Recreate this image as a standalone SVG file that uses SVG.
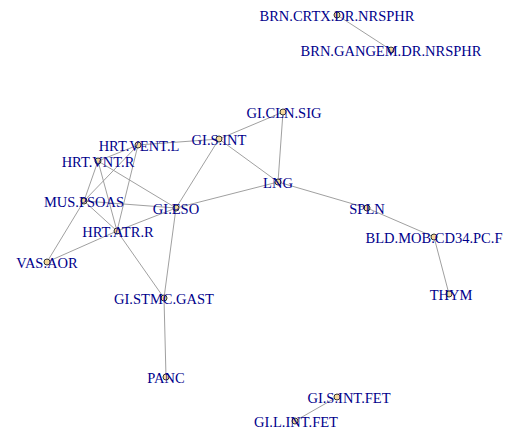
<svg xmlns="http://www.w3.org/2000/svg" width="518" height="433" viewBox="0 0 518 433">
<style>
.e{stroke:#a0a0a0;stroke-width:1;fill:none}
.n circle{fill:#f6d99a;stroke:#333;stroke-width:1}
.n text{font-family:"Liberation Serif","Times New Roman",serif;font-size:14.5px;fill:#00008b;text-anchor:middle}
</style>
<rect width="518" height="433" fill="#fff"/>
<g id="edges">
<line class="e" x1="337" y1="15" x2="391" y2="50"/>
<line class="e" x1="283" y1="112" x2="219" y2="139"/>
<line class="e" x1="283" y1="112" x2="278" y2="182"/>
<line class="e" x1="219" y1="139" x2="278" y2="182"/>
<line class="e" x1="219" y1="139" x2="138" y2="145"/>
<line class="e" x1="219" y1="139" x2="176" y2="208"/>
<line class="e" x1="278" y1="182" x2="176" y2="208"/>
<line class="e" x1="278" y1="182" x2="367" y2="208"/>
<line class="e" x1="367" y1="208" x2="434" y2="237"/>
<line class="e" x1="434" y1="237" x2="449" y2="294"/>
<line class="e" x1="138" y1="145" x2="98" y2="161"/>
<line class="e" x1="138" y1="145" x2="84" y2="201"/>
<line class="e" x1="138" y1="145" x2="117" y2="231"/>
<line class="e" x1="98" y1="161" x2="84" y2="201"/>
<line class="e" x1="98" y1="161" x2="117" y2="231"/>
<line class="e" x1="98" y1="161" x2="176" y2="208"/>
<line class="e" x1="84" y1="201" x2="176" y2="208"/>
<line class="e" x1="84" y1="201" x2="47" y2="262"/>
<line class="e" x1="84" y1="201" x2="117" y2="231"/>
<line class="e" x1="117" y1="231" x2="176" y2="208"/>
<line class="e" x1="117" y1="231" x2="47" y2="262"/>
<line class="e" x1="117" y1="231" x2="164" y2="298"/>
<line class="e" x1="176" y1="208" x2="164" y2="298"/>
<line class="e" x1="164" y1="298" x2="166" y2="377"/>
<line class="e" x1="337" y1="397" x2="295" y2="421"/>
</g>
<g id="BRN.CRTX.DR.NRSPHR" class="n"><circle cx="337" cy="15" r="3"/><text x="337" y="21">BRN.CRTX.DR.NRSPHR</text></g>
<g id="BRN.GANGEM.DR.NRSPHR" class="n"><circle cx="391" cy="50" r="3"/><text x="391" y="56">BRN.GANGEM.DR.NRSPHR</text></g>
<g id="GI.CLN.SIG" class="n"><circle cx="283" cy="112" r="3"/><text x="284" y="118">GI.CLN.SIG</text></g>
<g id="GI.S.INT" class="n"><circle cx="219" cy="139" r="3"/><text x="219" y="145">GI.S.INT</text></g>
<g id="LNG" class="n"><circle cx="278" cy="182" r="3"/><text x="278" y="188">LNG</text></g>
<g id="HRT.VENT.L" class="n"><circle cx="138" cy="145" r="3"/><text x="139" y="151">HRT.VENT.L</text></g>
<g id="HRT.VNT.R" class="n"><circle cx="98" cy="161" r="3"/><text x="98" y="167">HRT.VNT.R</text></g>
<g id="MUS.PSOAS" class="n"><circle cx="84" cy="201" r="3"/><text x="84" y="207">MUS.PSOAS</text></g>
<g id="GI.ESO" class="n"><circle cx="176" cy="208" r="3"/><text x="176" y="214">GI.ESO</text></g>
<g id="HRT.ATR.R" class="n"><circle cx="117" cy="231" r="3"/><text x="118" y="237">HRT.ATR.R</text></g>
<g id="VAS.AOR" class="n"><circle cx="47" cy="262" r="3"/><text x="47" y="268">VAS.AOR</text></g>
<g id="SPLN" class="n"><circle cx="367" cy="208" r="3"/><text x="367" y="214">SPLN</text></g>
<g id="BLD.MOB.CD34.PC.F" class="n"><circle cx="434" cy="237" r="3"/><text x="434" y="243">BLD.MOB.CD34.PC.F</text></g>
<g id="THYM" class="n"><circle cx="449" cy="294" r="3"/><text x="451" y="300">THYM</text></g>
<g id="GI.STMC.GAST" class="n"><circle cx="164" cy="298" r="3"/><text x="164" y="304">GI.STMC.GAST</text></g>
<g id="PANC" class="n"><circle cx="166" cy="377" r="3"/><text x="166" y="383">PANC</text></g>
<g id="GI.S.INT.FET" class="n"><circle cx="337" cy="397" r="3"/><text x="349" y="403">GI.S.INT.FET</text></g>
<g id="GI.L.INT.FET" class="n"><circle cx="295" cy="421" r="3"/><text x="296" y="427">GI.L.INT.FET</text></g>
</svg>
